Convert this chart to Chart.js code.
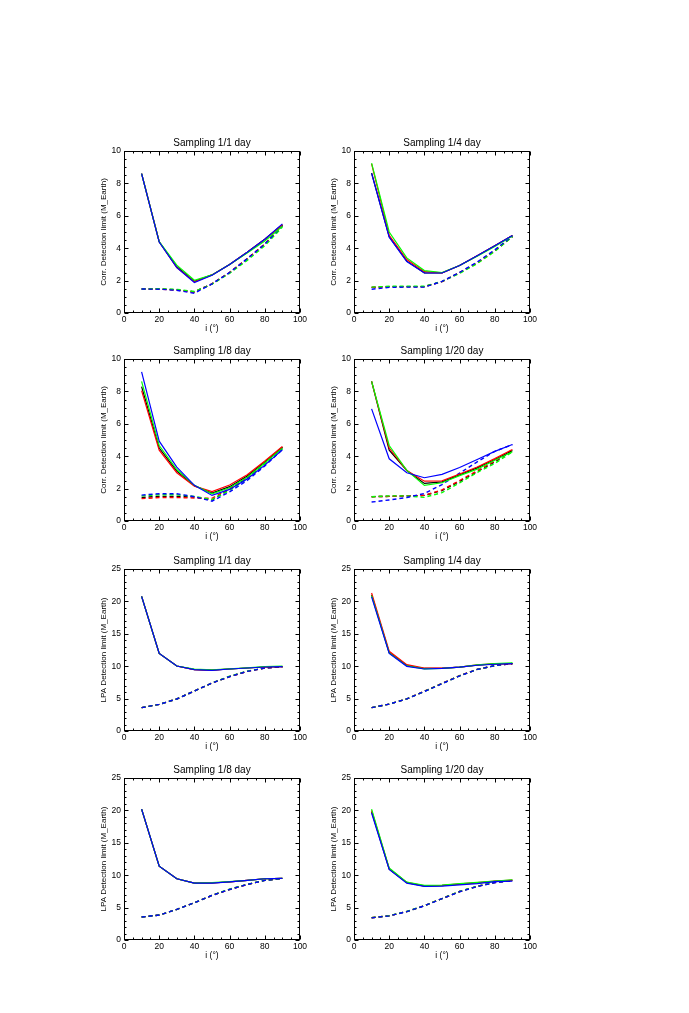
<!DOCTYPE html>
<html><head><meta charset="utf-8">
<script src="https://cdn.jsdelivr.net/npm/chart.js@4.4.1/dist/chart.umd.min.js"></script>
<style>
html,body{margin:0;padding:0;background:#fff;}
body{width:689px;height:1013px;position:relative;overflow:hidden;}
canvas{position:absolute;}
</style></head>
<body>
<script>
// ---------- data ----------
const incl = [10, 20, 30, 40, 50, 60, 70, 80, 90];
const xTickLabels = [0, 20, 40, 60, 80, 100];
const corrTickLabels = [0, 2, 4, 6, 8, 10];
const lpaTickLabels = [0, 5, 10, 15, 20, 25];
const titles = ['Sampling 1/1 day', 'Sampling 1/4 day', 'Sampling 1/8 day', 'Sampling 1/20 day'];
const corrLabel = 'Corr. Detection limit (M_Earth)';
const lpaLabel = 'LPA Detection limit (M_Earth)';
const xLabel = 'i (\u00b0)';

// Corr, sampling 1/1 day
const corr1_black   = [8.6, 4.4, 2.85, 1.95, 2.35, 3.0, 3.75, 4.55, 5.45];
const corr1_red     = [8.6, 4.4, 2.80, 1.93, 2.35, 3.0, 3.75, 4.55, 5.45];
const corr1_green   = [8.6, 4.4, 2.95, 2.02, 2.35, 3.0, 3.70, 4.45, 5.35];
const corr1_blue    = [8.6, 4.38, 2.80, 1.88, 2.33, 3.0, 3.75, 4.55, 5.50];
const corr1_black_d = [1.48, 1.48, 1.43, 1.30, 1.80, 2.50, 3.35, 4.25, 5.40];
const corr1_red_d   = [1.48, 1.48, 1.42, 1.30, 1.80, 2.50, 3.35, 4.25, 5.40];
const corr1_green_d = [1.48, 1.50, 1.46, 1.33, 1.78, 2.45, 3.25, 4.15, 5.30];
const corr1_blue_d  = [1.48, 1.47, 1.40, 1.22, 1.80, 2.50, 3.35, 4.25, 5.40];

// Corr, sampling 1/4 day
const corr4_black   = [8.64, 4.70, 3.20, 2.48, 2.47, 2.93, 3.53, 4.15, 4.78];
const corr4_red     = [9.20, 4.80, 3.30, 2.55, 2.48, 2.93, 3.53, 4.15, 4.78];
const corr4_green   = [9.25, 5.00, 3.40, 2.62, 2.50, 2.93, 3.50, 4.10, 4.75];
const corr4_blue    = [8.62, 4.68, 3.18, 2.47, 2.47, 2.93, 3.53, 4.15, 4.78];
const corr4_black_d = [1.58, 1.63, 1.63, 1.63, 1.94, 2.50, 3.10, 3.85, 4.72];
const corr4_red_d   = [1.58, 1.63, 1.63, 1.63, 1.94, 2.48, 3.08, 3.83, 4.72];
const corr4_green_d = [1.60, 1.65, 1.65, 1.65, 1.95, 2.45, 3.05, 3.80, 4.70];
const corr4_blue_d  = [1.47, 1.58, 1.60, 1.60, 1.95, 2.50, 3.15, 3.90, 4.75];

// Corr, sampling 1/8 day
const corr8_black   = [8.30, 4.50, 3.08, 2.18, 1.72, 2.12, 2.78, 3.65, 4.55];
const corr8_red     = [8.05, 4.37, 2.98, 2.15, 1.81, 2.22, 2.85, 3.70, 4.60];
const corr8_green   = [8.62, 4.66, 3.18, 2.20, 1.68, 2.05, 2.70, 3.58, 4.50];
const corr8_blue    = [9.20, 4.93, 3.33, 2.20, 1.58, 1.95, 2.60, 3.45, 4.40];
const corr8_black_d = [1.45, 1.52, 1.52, 1.48, 1.30, 1.95, 2.65, 3.55, 4.50];
const corr8_red_d   = [1.38, 1.45, 1.45, 1.42, 1.40, 2.00, 2.70, 3.60, 4.55];
const corr8_green_d = [1.55, 1.62, 1.62, 1.52, 1.32, 1.90, 2.60, 3.50, 4.45];
const corr8_blue_d  = [1.60, 1.68, 1.68, 1.50, 1.22, 1.80, 2.50, 3.40, 4.40];

// Corr, sampling 1/20 day
const corr20_black   = [8.62, 4.37, 3.12, 2.32, 2.42, 2.85, 3.28, 3.80, 4.35];
const corr20_red     = [8.62, 4.50, 3.12, 2.46, 2.48, 2.90, 3.33, 3.85, 4.41];
const corr20_green   = [8.62, 4.66, 3.12, 2.20, 2.36, 2.80, 3.20, 3.75, 4.27];
const corr20_blue    = [6.92, 3.84, 2.98, 2.67, 2.88, 3.30, 3.80, 4.30, 4.72];
const corr20_black_d = [1.50, 1.52, 1.55, 1.58, 1.88, 2.45, 3.05, 3.65, 4.35];
const corr20_red_d   = [1.50, 1.52, 1.55, 1.58, 1.92, 2.50, 3.10, 3.70, 4.40];
const corr20_green_d = [1.50, 1.55, 1.55, 1.46, 1.75, 2.35, 3.00, 3.55, 4.27];
const corr20_blue_d  = [1.17, 1.30, 1.45, 1.70, 2.25, 2.95, 3.65, 4.30, 4.72];

// LPA, sampling 1/1 day
const lpa1_black   = [20.78, 11.98, 10.03, 9.47, 9.38, 9.57, 9.72, 9.88, 9.93];
const lpa1_red     = [20.78, 11.98, 10.03, 9.47, 9.38, 9.57, 9.72, 9.88, 9.93];
const lpa1_green   = [20.78, 11.98, 10.03, 9.55, 9.45, 9.60, 9.75, 9.95, 10.02];
const lpa1_blue    = [20.78, 11.98, 10.03, 9.47, 9.36, 9.57, 9.72, 9.88, 9.93];
const lpa1_black_d = [3.60, 4.10, 4.94, 6.17, 7.40, 8.40, 9.20, 9.70, 9.90];
const lpa1_red_d   = [3.60, 4.10, 4.94, 6.17, 7.40, 8.40, 9.20, 9.70, 9.90];
const lpa1_green_d = [3.60, 4.10, 4.94, 6.17, 7.42, 8.45, 9.25, 9.75, 9.95];
const lpa1_blue_d  = [3.60, 4.10, 4.94, 6.17, 7.40, 8.40, 9.20, 9.70, 9.90];

// LPA, sampling 1/4 day
const lpa4_black   = [21.00, 12.10, 10.10, 9.65, 9.65, 9.85, 10.15, 10.35, 10.40];
const lpa4_red     = [21.30, 12.30, 10.24, 9.72, 9.70, 9.85, 10.20, 10.35, 10.40];
const lpa4_green   = [20.90, 12.05, 10.05, 9.60, 9.65, 9.85, 10.20, 10.40, 10.50];
const lpa4_blue    = [20.70, 11.98, 9.98, 9.57, 9.65, 9.85, 10.15, 10.30, 10.40];
const lpa4_black_d = [3.60, 4.15, 4.95, 6.12, 7.32, 8.52, 9.50, 10.10, 10.40];
const lpa4_red_d   = [3.60, 4.15, 4.95, 6.15, 7.35, 8.55, 9.50, 10.10, 10.40];
const lpa4_green_d = [3.60, 4.15, 4.95, 6.12, 7.32, 8.52, 9.50, 10.10, 10.45];
const lpa4_blue_d  = [3.60, 4.15, 4.95, 6.10, 7.30, 8.50, 9.50, 10.10, 10.40];

// LPA, sampling 1/8 day
const lpa8_black   = [20.20, 11.40, 9.45, 8.78, 8.80, 8.98, 9.19, 9.45, 9.50];
const lpa8_red     = [20.20, 11.40, 9.45, 8.78, 8.80, 8.98, 9.19, 9.45, 9.50];
const lpa8_green   = [20.20, 11.40, 9.45, 8.78, 8.85, 9.02, 9.20, 9.45, 9.50];
const lpa8_blue    = [20.20, 11.40, 9.45, 8.78, 8.78, 8.98, 9.19, 9.45, 9.50];
const lpa8_black_d = [3.54, 3.85, 4.72, 5.75, 6.88, 7.80, 8.57, 9.20, 9.50];
const lpa8_red_d   = [3.54, 3.85, 4.72, 5.75, 6.88, 7.80, 8.57, 9.20, 9.50];
const lpa8_green_d = [3.54, 3.85, 4.72, 5.75, 6.90, 7.85, 8.60, 9.20, 9.50];
const lpa8_blue_d  = [3.54, 3.85, 4.72, 5.75, 6.88, 7.80, 8.57, 9.20, 9.50];

// LPA, sampling 1/20 day
const lpa20_black   = [19.80, 10.95, 8.83, 8.32, 8.38, 8.60, 8.80, 9.05, 9.20];
const lpa20_red     = [20.00, 11.00, 8.88, 8.37, 8.42, 8.65, 8.85, 9.08, 9.25];
const lpa20_green   = [20.20, 11.10, 8.93, 8.42, 8.47, 8.70, 8.90, 9.10, 9.30];
const lpa20_blue    = [19.60, 10.90, 8.78, 8.27, 8.30, 8.50, 8.70, 9.00, 9.10];
const lpa20_black_d = [3.44, 3.74, 4.39, 5.29, 6.39, 7.48, 8.28, 8.88, 9.18];
const lpa20_red_d   = [3.44, 3.74, 4.39, 5.29, 6.39, 7.48, 8.28, 8.88, 9.18];
const lpa20_green_d = [3.45, 3.75, 4.40, 5.30, 6.40, 7.50, 8.30, 8.90, 9.20];
const lpa20_blue_d  = [3.42, 3.72, 4.38, 5.28, 6.38, 7.45, 8.25, 8.85, 9.15];

// ---------- panel definitions (built from the arrays) ----------
const COLORS = ['#000000', '#ff0000', '#00ff00', '#0000ff'];
const panels = [
  {title: titles[0], yLabel: corrLabel, yTicks: corrTickLabels, yMinor: 0.5, solid: [corr1_black, corr1_red, corr1_green, corr1_blue], dashed: [corr1_black_d, corr1_red_d, corr1_green_d, corr1_blue_d]},
  {title: titles[1], yLabel: corrLabel, yTicks: corrTickLabels, yMinor: 0.5, solid: [corr4_black, corr4_red, corr4_green, corr4_blue], dashed: [corr4_black_d, corr4_red_d, corr4_green_d, corr4_blue_d]},
  {title: titles[2], yLabel: corrLabel, yTicks: corrTickLabels, yMinor: 0.5, solid: [corr8_black, corr8_red, corr8_green, corr8_blue], dashed: [corr8_black_d, corr8_red_d, corr8_green_d, corr8_blue_d]},
  {title: titles[3], yLabel: corrLabel, yTicks: corrTickLabels, yMinor: 0.5, solid: [corr20_black, corr20_red, corr20_green, corr20_blue], dashed: [corr20_black_d, corr20_red_d, corr20_green_d, corr20_blue_d]},
  {title: titles[0], yLabel: lpaLabel, yTicks: lpaTickLabels, yMinor: 1, solid: [lpa1_black, lpa1_red, lpa1_green, lpa1_blue], dashed: [lpa1_black_d, lpa1_red_d, lpa1_green_d, lpa1_blue_d]},
  {title: titles[1], yLabel: lpaLabel, yTicks: lpaTickLabels, yMinor: 1, solid: [lpa4_black, lpa4_red, lpa4_green, lpa4_blue], dashed: [lpa4_black_d, lpa4_red_d, lpa4_green_d, lpa4_blue_d]},
  {title: titles[2], yLabel: lpaLabel, yTicks: lpaTickLabels, yMinor: 1, solid: [lpa8_black, lpa8_red, lpa8_green, lpa8_blue], dashed: [lpa8_black_d, lpa8_red_d, lpa8_green_d, lpa8_blue_d]},
  {title: titles[3], yLabel: lpaLabel, yTicks: lpaTickLabels, yMinor: 1, solid: [lpa20_black, lpa20_red, lpa20_green, lpa20_blue], dashed: [lpa20_black_d, lpa20_red_d, lpa20_green_d, lpa20_blue_d]}
];

// ---------- layout ----------
const FONT = '"Liberation Sans", Arial, Helvetica, sans-serif';
const CW = 240, CH = 215;
const colLeft = [70, 300];
const rowTop = [126, 334, 544, 753];
const Y_AXIS_W = 54, X_AXIS_H = 28, PAD_R = 10;

// box + inward ticks on all four sides (IDL style)
const boxTicks = {
  id: 'boxTicks',
  afterDatasetsDraw(chart, args, opts) {
    const {ctx, chartArea: a, scales: {x, y}} = chart;
    ctx.save();
    ctx.strokeStyle = '#000';
    ctx.lineWidth = 1;
    const L = Math.round(a.left) + 0.5, R = Math.round(a.right) - 0.5;
    const T = Math.round(a.top) + 0.5, B = Math.round(a.bottom) - 0.5;
    ctx.strokeRect(L, T, R - L, B - T);
    ctx.beginPath();
    for (let v = x.min; v <= x.max + 1e-9; v += opts.xMinor) {
      const major = Math.abs(v / opts.xMajor - Math.round(v / opts.xMajor)) < 1e-6;
      const len = major ? 4 : 2;
      const px = Math.round(x.getPixelForValue(v)) + 0.5;
      ctx.moveTo(px, B); ctx.lineTo(px, B - len);
      ctx.moveTo(px, T); ctx.lineTo(px, T + len);
    }
    for (let v = y.min; v <= y.max + 1e-9; v += opts.yMinor) {
      const major = Math.abs(v / opts.yMajor - Math.round(v / opts.yMajor)) < 1e-6;
      const len = major ? 4 : 2;
      const py = Math.round(y.getPixelForValue(v)) + 0.5;
      ctx.moveTo(L, py); ctx.lineTo(L + len, py);
      ctx.moveTo(R, py); ctx.lineTo(R - len, py);
    }
    ctx.stroke();
    ctx.restore();
  }
};

panels.forEach((p, i) => {
  const col = i % 2, row = Math.floor(i / 2);
  const cv = document.createElement('canvas');
  cv.width = CW; cv.height = CH;
  cv.style.left = colLeft[col] + 'px';
  cv.style.top = rowTop[row] + 'px';
  cv.style.width = CW + 'px'; cv.style.height = CH + 'px';
  document.body.appendChild(cv);

  const datasets = [];
  // dataset 0 is drawn on top in Chart.js, so list blue first
  for (let c = 3; c >= 0; c--) {
    datasets.push({
      data: incl.map((xv, k) => ({x: xv, y: p.solid[c][k]})),
      borderColor: COLORS[c], borderWidth: 1.2, pointRadius: 0, tension: 0, fill: false
    });
  }
  for (let c = 3; c >= 0; c--) {
    datasets.push({
      data: incl.map((xv, k) => ({x: xv, y: p.dashed[c][k]})),
      borderColor: COLORS[c], borderWidth: 1.4, borderDash: [4, 3],
      pointRadius: 0, tension: 0, fill: false
    });
  }
  const yMax = p.yTicks[p.yTicks.length - 1];
  const yMajor = p.yTicks[1] - p.yTicks[0];

  new Chart(cv, {
    type: 'line',
    data: {datasets},
    options: {
      responsive: false,
      devicePixelRatio: 1,
      animation: false,
      layout: {padding: {top: 11, right: PAD_R, left: 0, bottom: 0}},
      plugins: {
        legend: {display: false},
        tooltip: {enabled: false},
        title: {
          display: true, text: p.title, fullSize: false,
          color: '#000', font: {family: FONT, size: 10, weight: 'normal', lineHeight: 1.2},
          padding: {top: 0.3, bottom: 1.7}
        },
        boxTicks: {xMinor: 5, xMajor: 20, yMinor: p.yMinor, yMajor: yMajor}
      },
      scales: {
        x: {
          type: 'linear', min: 0, max: 100,
          afterBuildTicks: s => { s.ticks = xTickLabels.map(v => ({value: v})); },
          afterFit: s => { s.height = X_AXIS_H; },
          grid: {display: false, drawTicks: false},
          border: {display: false},
          ticks: {color: '#000', font: {family: FONT, size: 8.5}, padding: 2, maxRotation: 0, autoSkip: false},
          title: {display: true, text: xLabel, color: '#000', font: {family: FONT, size: 8.5, lineHeight: 1.2}, padding: {top: 0, bottom: 6.9}}
        },
        y: {
          type: 'linear', min: 0, max: yMax,
          afterBuildTicks: s => { s.ticks = p.yTicks.map(v => ({value: v})); },
          afterFit: s => { s.width = Y_AXIS_W; },
          grid: {display: false, drawTicks: false},
          border: {display: false},
          ticks: {color: '#000', font: {family: FONT, size: 8.5}, padding: 3, autoSkip: false},
          title: {display: true, text: p.yLabel, color: '#000', font: {family: FONT, size: 8, lineHeight: 1.2}, padding: {top: 28.7, bottom: 0}}
        }
      }
    },
    plugins: [boxTicks]
  });
});
</script>
</body></html>
